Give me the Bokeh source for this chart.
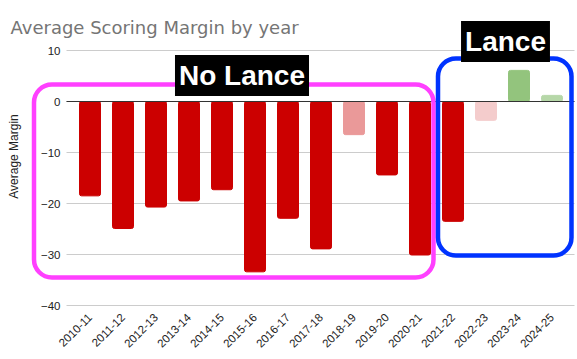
from math import pi
from bokeh.plotting import figure
from bokeh.models import (FixedTicker, Range1d, Grid, BoxAnnotation, Label,
                          ColumnDataSource)
from bokeh.embed import file_html
from bokeh.resources import INLINE

seasons = ["2010-11", "2011-12", "2012-13", "2013-14", "2014-15", "2015-16",
           "2016-17", "2017-18", "2018-19", "2019-20", "2020-21", "2021-22",
           "2022-23", "2023-24", "2024-25"]
margins = [-18.5, -24.9, -20.7, -19.5, -17.3, -33.4, -22.9, -28.9, -6.5,
           -14.4, -30.1, -23.5, -3.7, 6.1, 1.2]
bar_colors = ["#cc0000"] * 8 + ["#ea9999", "#cc0000", "#cc0000", "#cc0000",
                                "#f4cccc", "#93c47d", "#b6d7a8"]
y_ticks = [-40, -30, -20, -10, 0, 10]

idx = list(range(len(seasons)))
src = ColumnDataSource(dict(x=idx, top=margins, color=bar_colors))

STEP = 33.0          # px per category
Y_PX = 5.1           # px per y unit
last = len(seasons) - 1
x_start = -89.5 / STEP
x_end = last + (577 - 551.5) / STEP
grid_bounds = (-(89.5 - 66) / STEP, last + (574 - 551.5) / STEP)

p = figure(width=577, height=359, output_backend="svg", toolbar_location=None,
           x_range=Range1d(x_start, x_end),
           y_range=Range1d(y_ticks[0] - 7 / Y_PX, y_ticks[-1] + 50 / Y_PX),
           min_border_left=0, min_border_right=0, min_border_top=0,
           min_border_bottom=47)
p.outline_line_color = None

p.vbar(x="x", top="top", bottom=0, width=21 / STEP, color="color", source=src,
       border_radius=2)

p.xgrid.grid_line_color = None
p.ygrid.grid_line_color = "#cccccc"
p.ygrid.ticker = FixedTicker(ticks=y_ticks)
p.ygrid.cross_bounds = grid_bounds
p.add_layout(Grid(dimension=1, ticker=FixedTicker(ticks=[0]),
                  grid_line_color="#333333", grid_line_width=1,
                  cross_bounds=grid_bounds, level="guide"))

p.yaxis.fixed_location = grid_bounds[0]
p.yaxis.ticker = FixedTicker(ticks=y_ticks)
p.yaxis.axis_line_color = None
p.yaxis.major_tick_line_color = None
p.yaxis.minor_tick_line_color = None
p.yaxis.major_tick_out = 0
p.yaxis.major_tick_in = 0
p.yaxis.major_label_text_font = "Liberation Sans"
p.yaxis.major_label_text_font_size = "11.5px"
p.yaxis.major_label_text_color = "#222222"
p.yaxis.major_label_standoff = 6
p.yaxis.axis_label = "Average Margin"
p.yaxis.axis_label_text_font = "Liberation Sans"
p.yaxis.axis_label_text_font_size = "12px"
p.yaxis.axis_label_text_font_style = "normal"
p.yaxis.axis_label_text_color = "#222222"
p.yaxis.axis_label_standoff = 17

p.xaxis.ticker = FixedTicker(ticks=idx)
p.xaxis.major_label_overrides = {i: s for i, s in zip(idx, seasons)}
p.xaxis.axis_line_color = None
p.xaxis.major_tick_line_color = None
p.xaxis.minor_tick_line_color = None
p.xaxis.major_tick_out = 0
p.xaxis.major_tick_in = 0
p.xaxis.major_label_orientation = pi / 4
p.xaxis.major_label_text_font = "Liberation Sans"
p.xaxis.major_label_text_font_size = "11.5px"
p.xaxis.major_label_text_color = "#222222"
p.xaxis.major_label_standoff = 3

# chart title
p.add_layout(Label(x=10, y=27, x_units="canvas", y_units="canvas",
                   text="Average Scoring Margin by year",
                   text_font="DejaVu Sans", text_font_size="18px",
                   text_color="#757575", text_baseline="alphabetic"))

# hand-drawn style callout boxes (canvas pixel units)
for l, r, t, b, col, lw in [(33.5, 433, 84, 277, "#ff40ff", 4.5),
                            (437.5, 571, 58, 255, "#0033ff", 4.5)]:
    p.add_layout(BoxAnnotation(left=l, right=r, top=t, bottom=b,
                               left_units="canvas", right_units="canvas",
                               top_units="canvas", bottom_units="canvas",
                               fill_alpha=0, line_color=col, line_alpha=1,
                               line_width=lw, border_radius=18))
for txt, cx, cy in [("No Lance", 241.5, 75), ("Lance", 505, 41)]:
    p.add_layout(Label(x=cx, y=cy, x_units="canvas", y_units="canvas",
                       text=txt, text_align="center", text_baseline="middle",
                       text_font="Liberation Sans", text_font_size="28px",
                       text_font_style="bold", text_color="white",
                       background_fill_color="black",
                       padding=dict(left=4, right=4, top=5, bottom=5)))

open("out.html", "w").write(file_html(p, INLINE))
